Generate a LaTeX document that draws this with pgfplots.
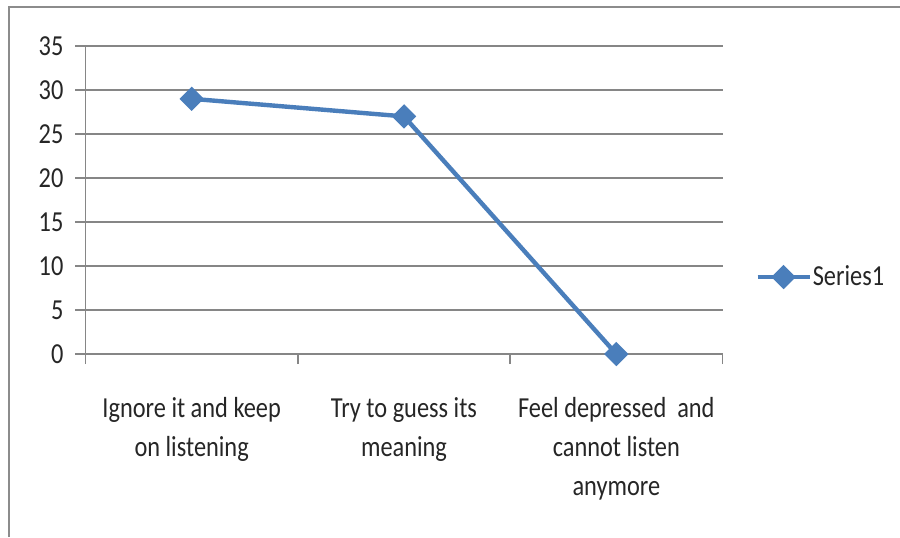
\documentclass[border=0pt]{standalone}
\usepackage{fontspec}
\setmainfont{Carlito}[FakeStretch=0.84]
\usepackage{pgfplots}
\pgfplotsset{compat=1.18}
\definecolor{serblue}{RGB}{74,126,187}
\definecolor{gridgray}{RGB}{134,134,134}
\definecolor{txt}{RGB}{38,38,38}
\begin{document}
\begin{tikzpicture}
\useasboundingbox (0,0) rectangle (450pt,268.5pt);
\fill[white] (0,0) rectangle (450pt,268.5pt);
\draw[gray!90, line width=0.8pt] (4.5pt,0) -- (4.5pt,265pt) -- (450pt,265pt);
\begin{axis}[
  at={(42.75pt,91.5pt)}, anchor=south west,
  scale only axis, width=318.5pt, height=154pt,
  xmin=0, xmax=3, ymin=0, ymax=35,
  xtick={0,1,2,3},
  xticklabels={{Ignore it and keep\\on listening},{Try to guess its\\meaning},{Feel depressed\ \ and\\cannot listen\\anymore}},
  x tick label as interval,
  ytick={0,5,...,35},
  /pgf/number format/assume math mode=true,
  axis x line*=bottom, axis y line*=left,
  axis line style={gridgray, line width=0.8pt, -},
  tick style={gridgray, line width=0.8pt},
  tick align=outside, major tick length=5pt,
  ymajorgrids, grid style={gridgray, line width=0.8pt},
  ticklabel style={font=\fontsize{14.5}{19.5}\selectfont, text=txt},
  xticklabel style={align=center, anchor=north, yshift=-13pt},
  yticklabel style={anchor=east, xshift=-2.5pt},
  legend style={at={(1.051,0.25)}, anchor=west, draw=none, fill=none, inner sep=0pt,
    font=\fontsize{14.5}{17}\selectfont, text=txt, nodes={inner sep=0.5pt}},
  legend cell align=left,
  legend image code/.code={\draw[mark repeat=2,mark phase=2,#1] plot coordinates {(0pt,0pt)(13pt,0pt)(26pt,0pt)};},
  clip=false,
]
\addplot[serblue, line width=2.2pt, mark=square*, mark size=3.2pt, mark options={rotate=45, solid}] coordinates {(0.5,29) (1.5,27) (2.5,0)};
\addlegendentry{Series1}
\end{axis}
\end{tikzpicture}
\end{document}
